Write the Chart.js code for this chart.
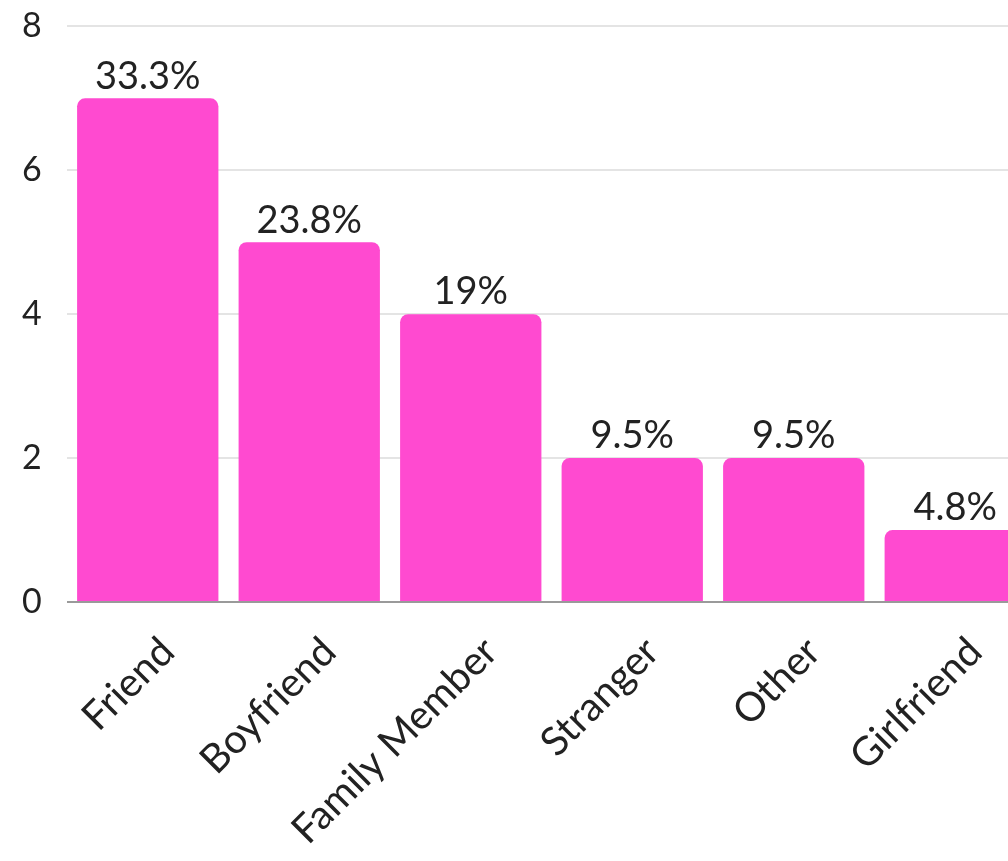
<!DOCTYPE html>
<html>
<head>
<meta charset="utf-8">
<script src="https://cdn.jsdelivr.net/npm/chart.js@4"></script>
<style>
  html, body { margin: 0; padding: 0; background: #fff; overflow: hidden; }
  #wrap { width: 1040px; height: 861px; position: relative; }
</style>
</head>
<body>
<div id="wrap"><canvas id="chart"></canvas></div>
<script>
// Data
const categories = ['Friend', 'Boyfriend', 'Family Member', 'Stranger', 'Other', 'Girlfriend'];
const counts = [7, 5, 4, 2, 2, 1];
const percentLabels = ['33.3%', '23.8%', '19%', '9.5%', '9.5%', '4.8%'];
const yTicks = [0, 2, 4, 6, 8];

const FONT = 'Lato, "Open Sans", sans-serif';

// Percent labels above bars
const barLabels = {
  id: 'barLabels',
  afterDatasetsDraw(chart) {
    const ctx = chart.ctx;
    const meta = chart.getDatasetMeta(0);
    ctx.save();
    ctx.font = '38px ' + FONT;
    ctx.fillStyle = '#222';
    ctx.textAlign = 'center';
    ctx.textBaseline = 'bottom';
    meta.data.forEach((bar, i) => {
      ctx.fillText(percentLabels[i], bar.x, bar.y - 3);
    });
    ctx.restore();
  }
};

new Chart(document.getElementById('chart'), {
  type: 'bar',
  data: {
    labels: categories,
    datasets: [{
      data: counts,
      backgroundColor: '#ff4ad0',
      borderRadius: { topLeft: 8, topRight: 8 },
      borderSkipped: 'bottom',
      categoryPercentage: 1,
      barPercentage: 0.875
    }]
  },
  options: {
    responsive: true,
    maintainAspectRatio: false,
    animation: false,
    layout: { padding: { top: 0, right: 4, left: 22, bottom: 0 } },
    plugins: {
      legend: { display: false },
      tooltip: { enabled: false }
    },
    scales: {
      x: {
        grid: { display: false },
        border: { display: false },
        ticks: {
          color: '#222',
          font: { family: FONT, size: 40 },
          maxRotation: 45,
          minRotation: 45,
          padding: 18,
          labelOffset: 20
        },
        afterFit: s => { s.height = 259; }
      },
      y: {
        min: 0,
        max: 8,
        afterBuildTicks: s => { s.ticks = yTicks.map(v => ({ value: v })); },
        grid: {
          color: ctx => ctx.tick && ctx.tick.value === 0 ? '#9a9a9a' : '#e4e4e4',
          lineWidth: 2,
          drawTicks: false
        },
        border: { display: false },
        ticks: {
          color: '#222',
          font: { family: FONT, size: 34 },
          crossAlign: 'far',
          padding: 6
        },
        afterFit: s => { s.width = 45; }
      }
    }
  },
  plugins: [barLabels]
});
</script>
</body>
</html>
